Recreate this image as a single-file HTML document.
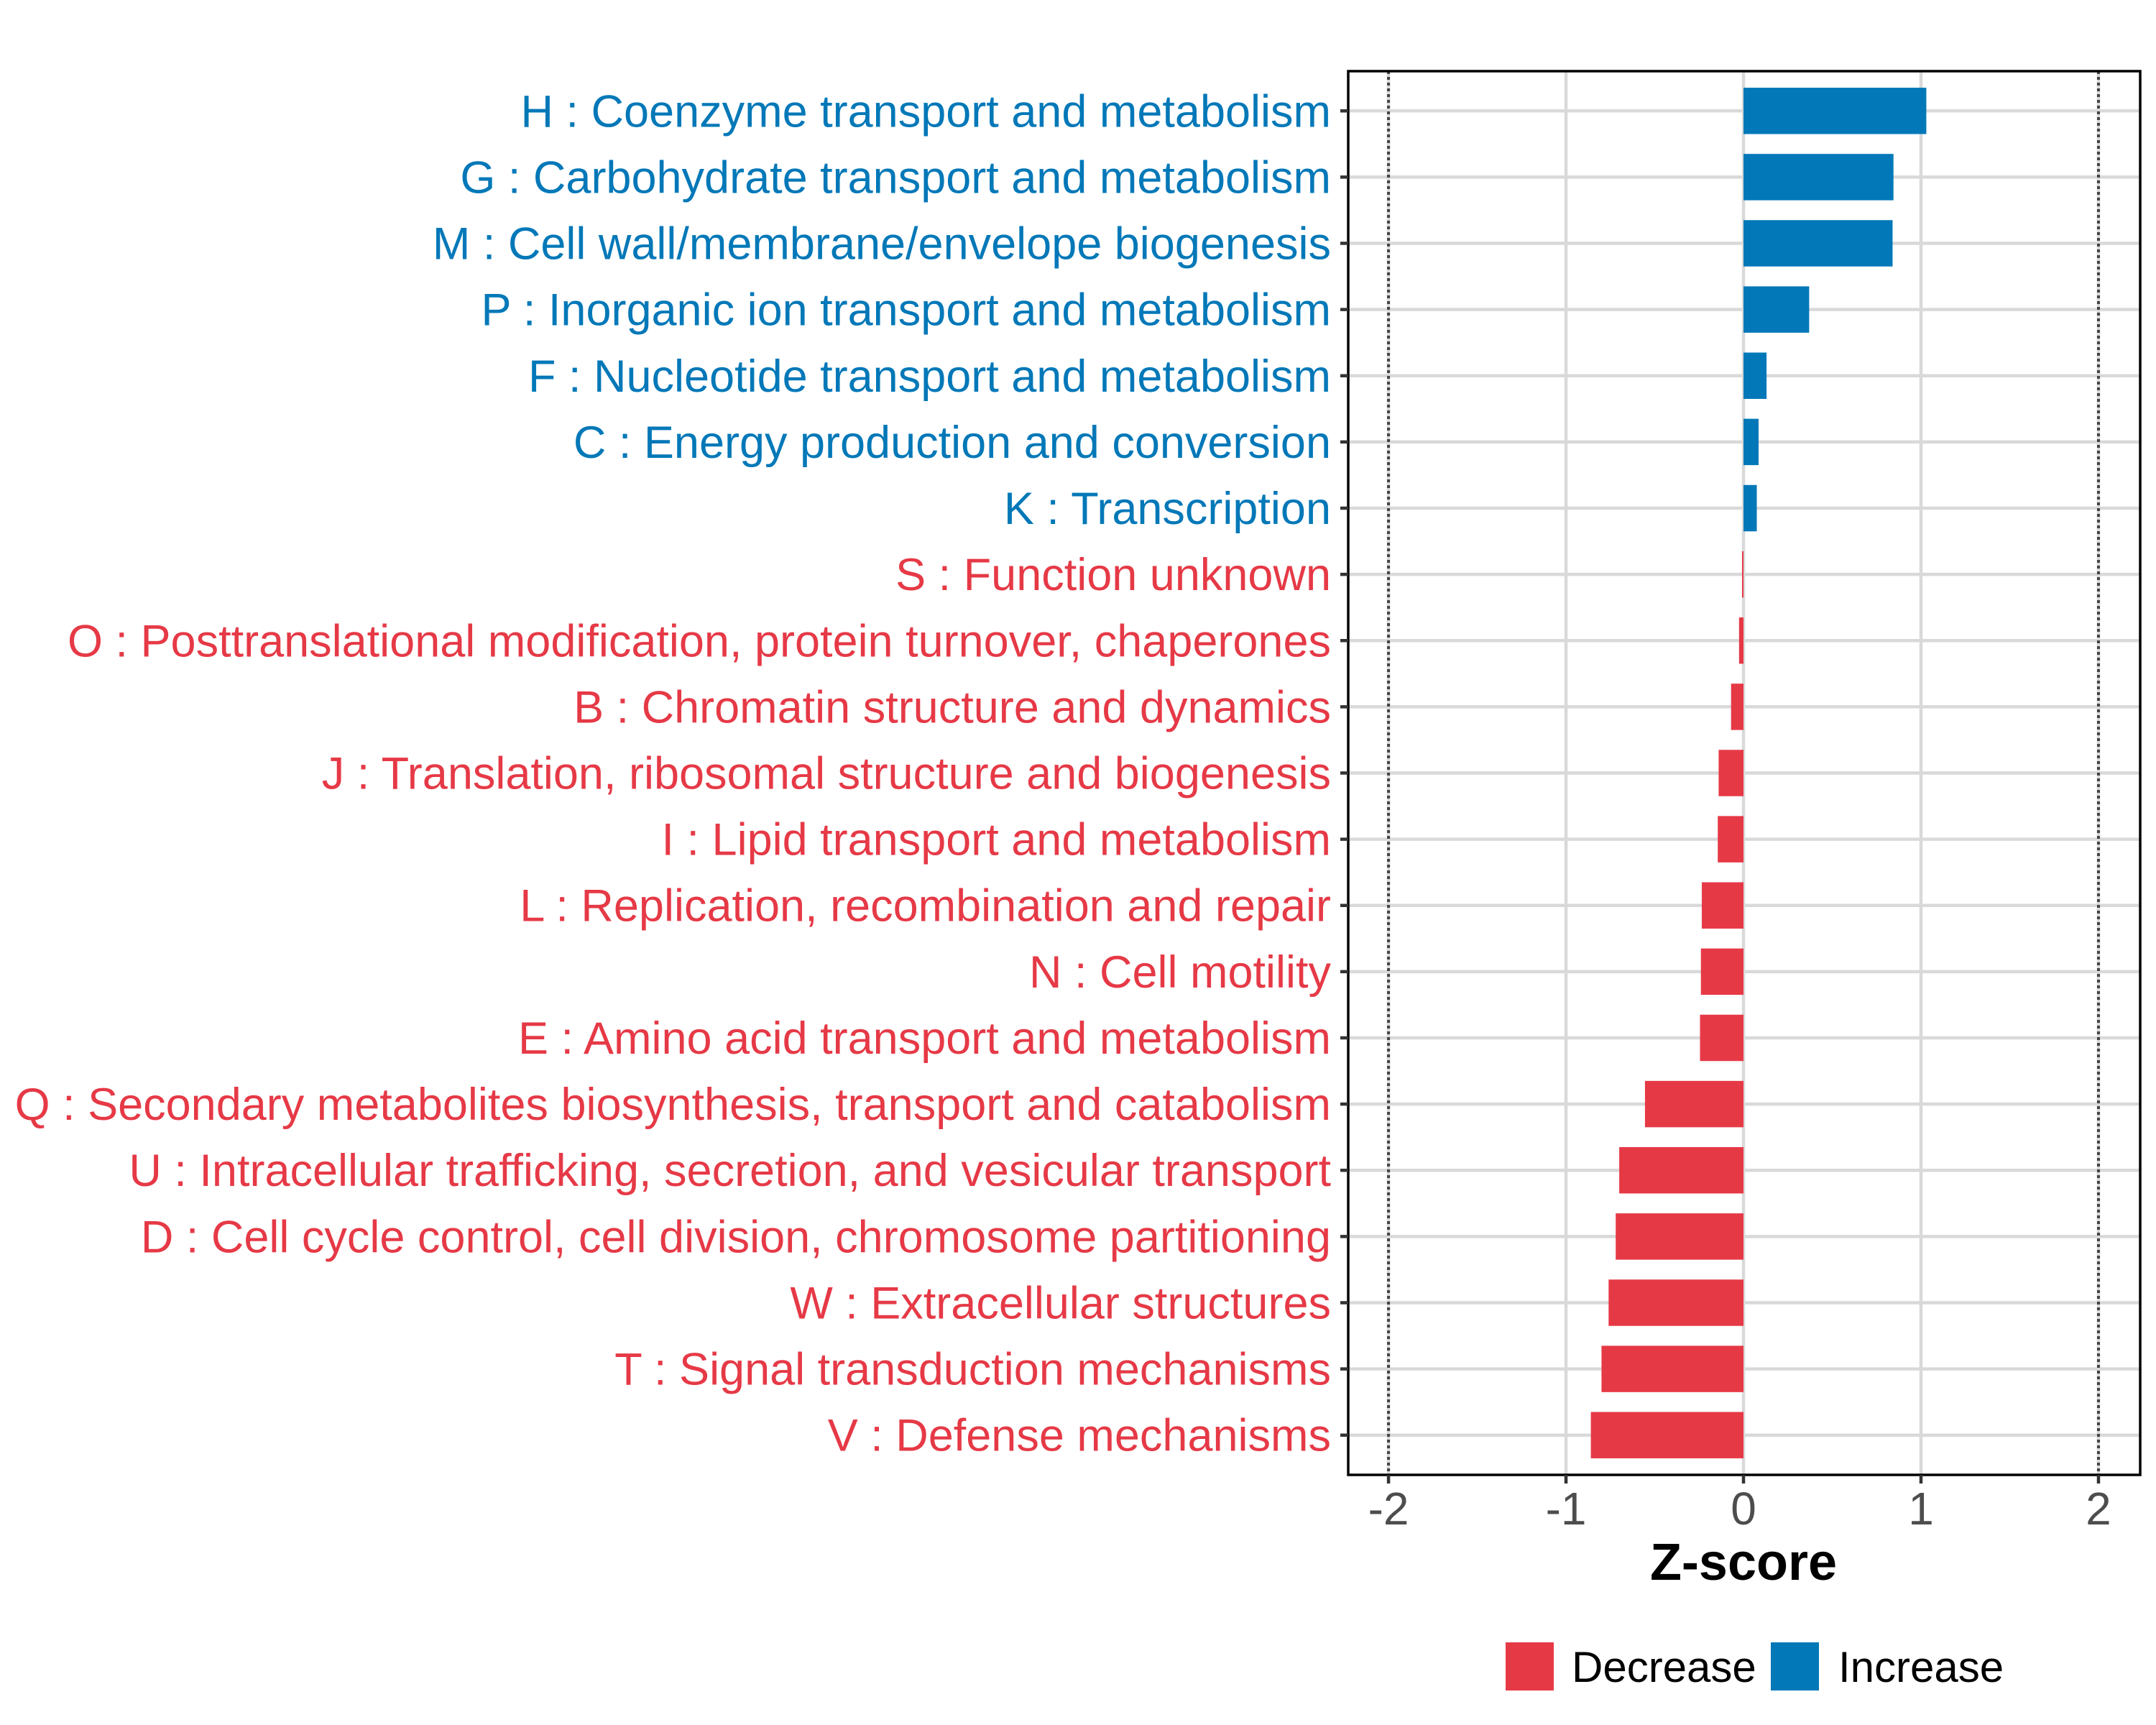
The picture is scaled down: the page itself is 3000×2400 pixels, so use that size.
<!DOCTYPE html>
<html><head><meta charset="utf-8"><style>
html,body{margin:0;padding:0;background:#fff;}
svg{display:block;font-family:"Liberation Sans",Arial,sans-serif;}
</style></head><body>
<svg id="chart" width="3000" height="2400" viewBox="0 0 3000 2400" xmlns="http://www.w3.org/2000/svg">
<rect width="3000" height="2400" fill="#fff"/>
<g id="grid"></g>
<g id="bars"></g>
<g id="thr"></g>
<rect x="1876" y="99" width="1102" height="1953" fill="none" stroke="#000" stroke-width="3.5"/>
<g id="ylabels"></g>
<g id="xaxis"></g>
<text x="2426" y="2198" text-anchor="middle" font-size="72" font-weight="bold" fill="#000">Z-score</text>
<g>
  <rect x="2095" y="2285" width="67" height="67" fill="#E63946"/>
  <text x="2187" y="2340" font-size="60" fill="#000">Decrease</text>
  <rect x="2464" y="2285" width="67" height="67" fill="#0278B8"/>
  <text x="2558" y="2340" font-size="60" fill="#000">Increase</text>
</g>
</svg>
<script>
var categories = [
"H : Coenzyme transport and metabolism",
"G : Carbohydrate transport and metabolism",
"M : Cell wall/membrane/envelope biogenesis",
"P : Inorganic ion transport and metabolism",
"F : Nucleotide transport and metabolism",
"C : Energy production and conversion",
"K : Transcription",
"S : Function unknown",
"O : Posttranslational modification, protein turnover, chaperones",
"B : Chromatin structure and dynamics",
"J : Translation, ribosomal structure and biogenesis",
"I : Lipid transport and metabolism",
"L : Replication, recombination and repair",
"N : Cell motility",
"E : Amino acid transport and metabolism",
"Q : Secondary metabolites biosynthesis, transport and catabolism",
"U : Intracellular trafficking, secretion, and vesicular transport",
"D : Cell cycle control, cell division, chromosome partitioning",
"W : Extracellular structures",
"T : Signal transduction mechanisms",
"V : Defense mechanisms"
];
var zscores = [1.03,0.845,0.84,0.37,0.13,0.085,0.075,-0.008,-0.025,-0.07,-0.14,-0.145,-0.235,-0.24,-0.245,-0.555,-0.70,-0.72,-0.76,-0.80,-0.86];
var xTicks = [-2,-1,0,1,2];
var xTickLabels = ["-2","-1","0","1","2"];
var thresholds = [-2,2];

var NS = "http://www.w3.org/2000/svg";
var PL = 1876, PR = 2978, PT = 99, PB = 2052;
var xMin = -2.227, xMax = 2.235;
function xs(v){ return PL + (v - xMin) / (xMax - xMin) * (PR - PL); }
var n = categories.length;
var step = (PB - PT) / (n - 1 + 1.2);
function ys(i){ return PT + 0.6 * step + i * step; }
var grid = document.getElementById('grid');
var bars = document.getElementById('bars');
var thr = document.getElementById('thr');
var yl = document.getElementById('ylabels');
var xa = document.getElementById('xaxis');

for (var a = 0; a < xTicks.length; a++) {
  var g1 = document.createElementNS(NS, 'line');
  g1.setAttribute('x1', xs(xTicks[a])); g1.setAttribute('x2', xs(xTicks[a]));
  g1.setAttribute('y1', PT); g1.setAttribute('y2', PB);
  g1.setAttribute('stroke', '#D9D9D9'); g1.setAttribute('stroke-width', '4.5');
  
  
  grid.appendChild(g1);

  var tk = document.createElementNS(NS, 'line');
  tk.setAttribute('x1', xs(xTicks[a])); tk.setAttribute('x2', xs(xTicks[a]));
  tk.setAttribute('y1', PB); tk.setAttribute('y2', PB + 12);
  tk.setAttribute('stroke', '#333'); tk.setAttribute('stroke-width', '4.5');
  
  
  xa.appendChild(tk);

  var lb = document.createElementNS(NS, 'text');
  lb.setAttribute('x', xs(xTicks[a])); lb.setAttribute('y', 2121);
  lb.setAttribute('text-anchor', 'middle'); lb.setAttribute('font-size', '64');
  lb.setAttribute('fill', '#4D4D4D');
  lb.textContent = xTickLabels[a];
  
  
  xa.appendChild(lb);
}

for (var i = 0; i < n; i++) {
  var y = ys(i);
  var g2 = document.createElementNS(NS, 'line');
  g2.setAttribute('x1', PL); g2.setAttribute('x2', PR);
  g2.setAttribute('y1', y); g2.setAttribute('y2', y);
  g2.setAttribute('stroke', '#D9D9D9'); g2.setAttribute('stroke-width', '4.5');
  
  
  grid.appendChild(g2);

  var v = zscores[i];
  var h = step * 0.7;
  var x0 = xs(Math.min(0, v)), x1 = xs(Math.max(0, v));
  var col = v >= 0 ? '#0278B8' : '#E63946';
  var r = document.createElementNS(NS, 'rect');
  r.setAttribute('x', x0); r.setAttribute('y', y - h / 2);
  r.setAttribute('width', Math.max(x1 - x0, 1)); r.setAttribute('height', h);
  r.setAttribute('fill', col);
  
  
  bars.appendChild(r);

  var t = document.createElementNS(NS, 'text');
  t.setAttribute('x', 1852); t.setAttribute('y', y + 22);
  t.setAttribute('text-anchor', 'end'); t.setAttribute('font-size', '63');
  t.setAttribute('fill', col);
  t.textContent = categories[i];
  
  
  yl.appendChild(t);

  var yt = document.createElementNS(NS, 'line');
  yt.setAttribute('x1', PL - 11); yt.setAttribute('x2', PL);
  yt.setAttribute('y1', y); yt.setAttribute('y2', y);
  yt.setAttribute('stroke', '#333'); yt.setAttribute('stroke-width', '4.5');
  
  
  yl.appendChild(yt);
}

for (var b = 0; b < thresholds.length; b++) {
  var tl = document.createElementNS(NS, 'line');
  tl.setAttribute('x1', xs(thresholds[b])); tl.setAttribute('x2', xs(thresholds[b]));
  tl.setAttribute('y1', PT); tl.setAttribute('y2', PB);
  tl.setAttribute('stroke', '#444'); tl.setAttribute('stroke-width', '4');
  tl.setAttribute('stroke-dasharray', '4 4');
  
  
  thr.appendChild(tl);
}
</script>
</body></html>
